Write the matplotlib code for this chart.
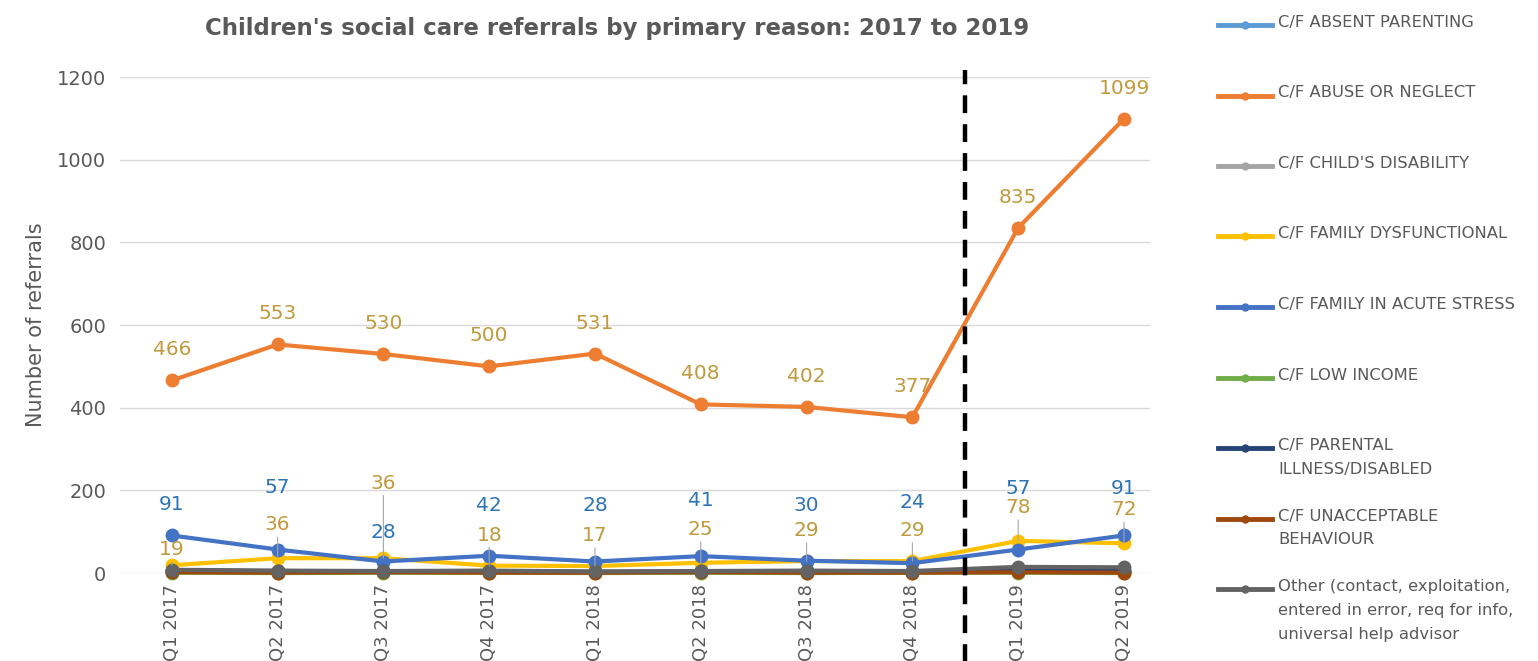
import matplotlib
matplotlib.use("Agg")
import matplotlib.pyplot as plt
from matplotlib.lines import Line2D

# data
quarters = ["Q1 2017", "Q2 2017", "Q3 2017", "Q4 2017", "Q1 2018",
            "Q2 2018", "Q3 2018", "Q4 2018", "Q1 2019", "Q2 2019"]
absent_parenting = [5, 3, 4, 3, 2, 4, 3, 2, 6, 4]
abuse_neglect = [466, 553, 530, 500, 531, 408, 402, 377, 835, 1099]
child_disability = [3, 4, 2, 3, 3, 2, 4, 3, 5, 3]
family_dysfunctional = [19, 36, 36, 18, 17, 25, 29, 29, 78, 72]
acute_stress = [91, 57, 28, 42, 28, 41, 30, 24, 57, 91]
low_income = [1, 0, 1, 1, 0, 1, 0, 1, 1, 0]
parental_illness = [6, 5, 4, 5, 3, 4, 5, 3, 8, 6]
unacceptable = [2, 1, 2, 1, 1, 2, 1, 1, 2, 1]
other = [8, 6, 5, 6, 4, 5, 6, 5, 15, 14]

names = ["C/F ABSENT PARENTING", "C/F ABUSE OR NEGLECT", "C/F CHILD'S DISABILITY",
         "C/F FAMILY DYSFUNCTIONAL", "C/F FAMILY IN ACUTE STRESS", "C/F LOW INCOME",
         "C/F PARENTAL\nILLNESS/DISABLED", "C/F UNACCEPTABLE\nBEHAVIOUR",
         "Other (contact, exploitation,\nentered in error, req for info,\nuniversal help advisor"]
series = [absent_parenting, abuse_neglect, child_disability, family_dysfunctional,
          acute_stress, low_income, parental_illness, unacceptable, other]
colors = ["#5B9BD5", "#ED7D31", "#A5A5A5", "#FFC000", "#4472C4",
          "#70AD47", "#264478", "#9E480E", "#636363"]

# label offsets in points (layout only)
abuse_off = [22] * 10
stress_off = [22, 45, 21, 36, 40, 40, 40, 44, 44, 34]
dysf_off = [11, 24, 54, 22, 22, 24, 22, 22, 24, 24]

grey = "#595959"
fig = plt.figure(figsize=(15.38, 6.61), dpi=100)
ax = fig.add_axes([0.078, 0.133, 0.67, 0.7505])

x = list(range(len(quarters)))
for vals, c in zip(series, colors):
    ax.plot(x, vals, color=c, lw=3, marker="o", ms=9, clip_on=False, zorder=3)

lab_col = "#C09A3C"
for i, v in enumerate(abuse_neglect):
    ax.annotate(str(v), (i, v), xytext=(0, abuse_off[i]), textcoords="offset points",
                ha="center", va="center", fontsize=14.5, color=lab_col)
for i, v in enumerate(acute_stress):
    ax.annotate(str(v), (i, v), xytext=(0, stress_off[i]), textcoords="offset points",
                ha="center", va="center", fontsize=14.5, color="#2E75B6")
for i, v in enumerate(family_dysfunctional):
    ax.annotate(str(v), (i, v), xytext=(0, dysf_off[i]), textcoords="offset points",
                ha="center", va="center", fontsize=14.5, color=lab_col,
                arrowprops=dict(arrowstyle="-", color="#A6A6A6", lw=0.8,
                                shrinkA=0, shrinkB=0))

ax.plot([7.5, 7.5], [-225, 1218], color="black", lw=3.2, ls=(0, (4, 2.5)),
        clip_on=False, zorder=5)

ax.set_xlim(-0.49, 9.25)
ax.set_ylim(0, 1200)
ax.set_yticks(range(0, 1201, 200))
ax.grid(axis="y", color="#D9D9D9", lw=1)
ax.set_axisbelow(True)
for s in ax.spines.values():
    s.set_visible(False)
ax.tick_params(length=0, labelsize=14, labelcolor=grey)
ax.tick_params(axis="y", pad=10)
ax.set_xticks(x)
ax.set_xticklabels(quarters, rotation=90)
ax.tick_params(axis="x", pad=8, labelsize=13)
ax.set_ylabel("Number of referrals", fontsize=15, color=grey, labelpad=8)

fig.text(0.401, 0.957, "Children's social care referrals by primary reason: 2017 to 2019",
         ha="center", va="center", fontsize=16.5, fontweight="bold", color=grey)

# legend drawn by hand so entries keep an even spacing
top = 25
for k, (name, c) in enumerate(zip(names, colors)):
    yy = 1 - (top + 70.5 * k) / 661
    fig.add_artist(Line2D([1218 / 1538, 1272 / 1538], [yy, yy], color=c, lw=3.5,
                          transform=fig.transFigure))
    fig.add_artist(Line2D([1245 / 1538], [yy], color=c, marker="o", ms=5,
                          transform=fig.transFigure))
    fig.text(1278 / 1538, yy + 10 / 661, name, ha="left", va="top", fontsize=11.8,
             color=grey, linespacing=1.75)

fig.savefig("out.png", dpi=100)
